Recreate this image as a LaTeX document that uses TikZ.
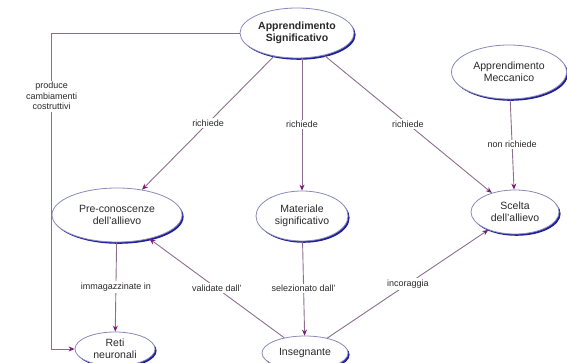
\documentclass[tikz,border=0pt]{standalone}
\usepackage{fontspec}
\setmainfont{Liberation Sans}
\definecolor{cmapBorder}{HTML}{8A8AB8}
\definecolor{cmapShadow}{HTML}{20209A}
\definecolor{cmapLink}{HTML}{8E6E8E}
\definecolor{cmapArrow}{HTML}{7A1A7A}
\definecolor{cmapText}{HTML}{2A2A2A}
\usetikzlibrary{arrows.meta, positioning, shapes.geometric, shadows}
\tikzset{
    concept node/.style={ellipse, draw=cmapBorder, fill=white, line width=0.8pt,
        drop shadow={shadow xshift=1.6pt, shadow yshift=-1.8pt, fill=cmapShadow, opacity=1},
        align=center, font=\fontsize{10.5}{12}\selectfont, inner sep=0.5pt, text=cmapText},
    link label/.style={fill=white, inner sep=1.5pt, align=center, text=cmapText, font=\fontsize{9}{10.5}\selectfont},
    arrow style/.style={-{Stealth[length=6pt, width=5pt, color=cmapArrow]}, line width=0.9pt, cmapLink},
}

\begin{document}
\begin{tikzpicture}[x=1pt, y=1pt]
    \useasboundingbox (0,0) rectangle (567,363);

    \node[concept node, font=\bfseries\fontsize{10.5}{12}\selectfont, minimum width=114pt, minimum height=50pt] (signif) at (297,330) {Apprendimento\\Significativo};
    \node[concept node, minimum width=115pt, minimum height=54pt] (mecc) at (509,291) {Apprendimento\\Meccanico};
    \node[concept node, minimum width=130pt, minimum height=54pt] (precon) at (117,148) {Pre-conoscenze\\dell'allievo};
    \node[concept node, minimum width=92pt, minimum height=50pt] (materiale) at (302,147) {Materiale\\significativo};
    \node[concept node, minimum width=88pt, minimum height=44pt] (scelta) at (515,151) {Scelta\\dell'allievo};
    \node[concept node, minimum width=80pt, minimum height=34pt] (reti) at (115,14) {Reti\\neuronali};
    \node[concept node, minimum width=86pt, minimum height=34pt] (insegn) at (305,10) {Insegnante};

    \draw[arrow style] (signif) -- node[link label] {richiede} (precon);
    \draw[arrow style] (signif.south -| materiale) -- node[link label] {richiede} (materiale);
    \draw[arrow style] (signif) -- node[link label] {richiede} (scelta);
    \draw[arrow style] (mecc) -- node[link label] {non richiede} (scelta);
    \draw[arrow style] (signif.west) -- (signif.west -| precon.west) |- node[link label, pos=0.1] {produce\\cambiamenti\\costruttivi} (reti.west);
    \draw[arrow style] (precon) -- node[link label] {immagazzinate in} (reti);
    \draw[arrow style] (insegn) -- node[link label] {validate dall'} (precon);
    \draw[arrow style] (materiale) -- node[link label] {selezionato dall'} (insegn);
    \draw[arrow style] (insegn) -- node[link label] {incoraggia} (scelta);
\end{tikzpicture}
\end{document}
